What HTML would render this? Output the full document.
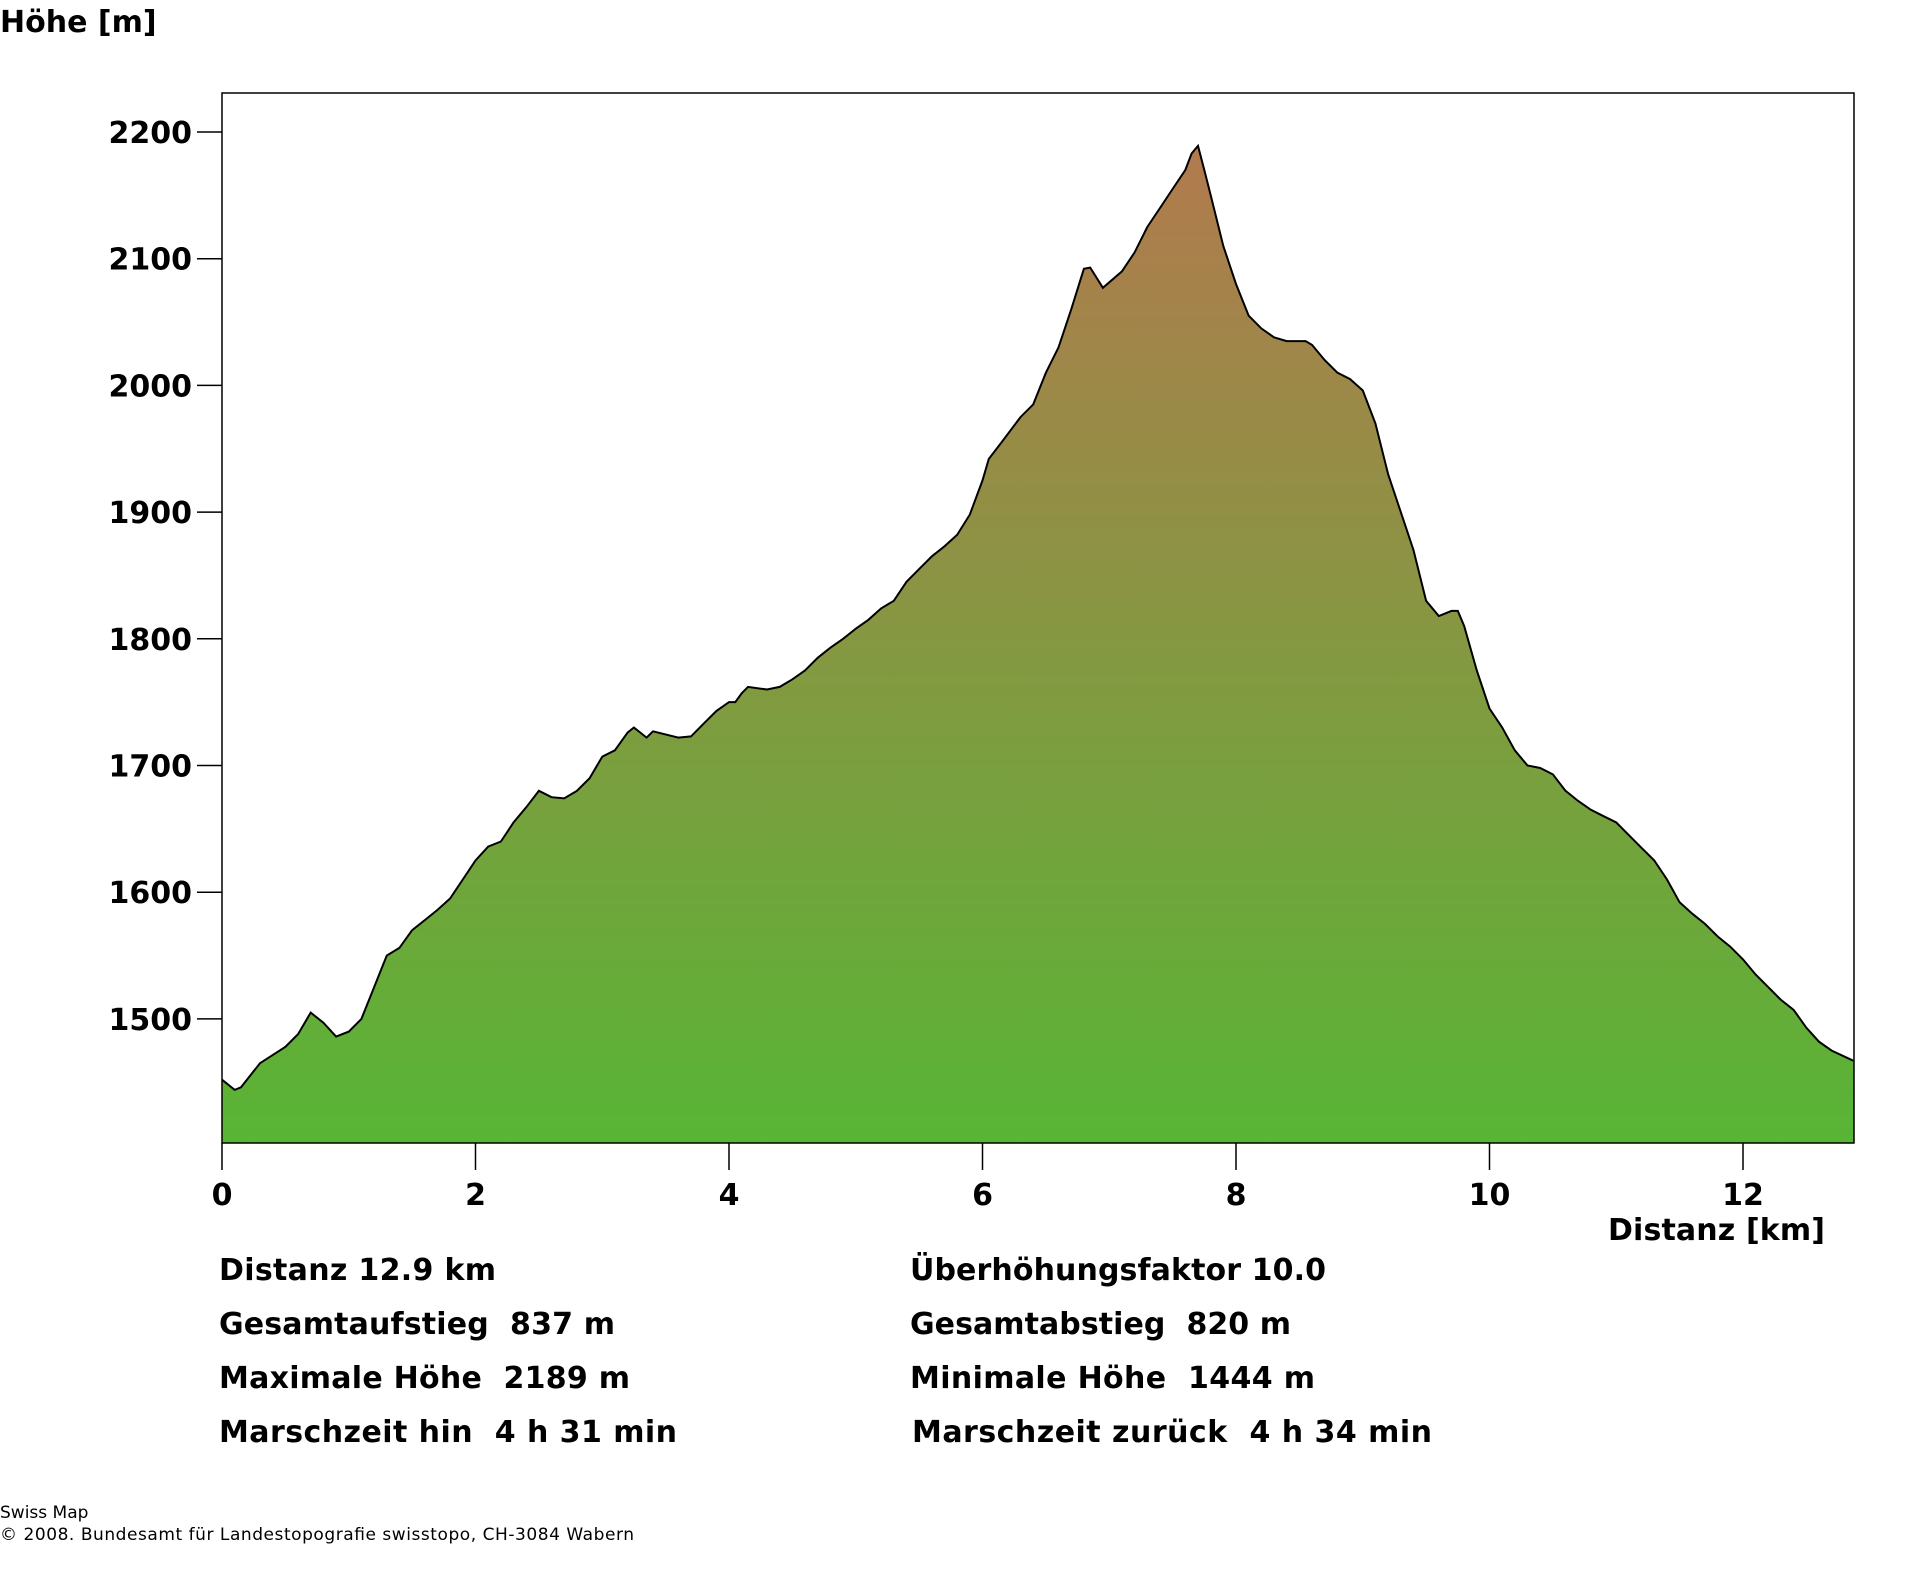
<!DOCTYPE html>
<html><head><meta charset="utf-8"><style>
html,body{margin:0;padding:0;background:#fff;}
svg{display:block;}
text{font-family:"DejaVu Sans","Liberation Sans",sans-serif;fill:#000;}
.b{font-weight:bold;font-size:30px;}
</style></head><body>
<svg id="s" width="1920" height="1572" viewBox="0 0 1920 1572" xmlns="http://www.w3.org/2000/svg">
<defs>
<linearGradient id="g" gradientUnits="userSpaceOnUse" x1="0" y1="146" x2="0" y2="1143">
<stop offset="0" stop-color="#b27a4e"/>
<stop offset="1" stop-color="#58b535"/>
</linearGradient>
</defs>
<path id="area" fill="url(#g)" stroke="none"/>
<path id="line" fill="none" stroke="#000" stroke-width="2"/>
<rect x="222" y="93" width="1632" height="1050" fill="none" stroke="#000" stroke-width="1.5"/>
<g id="ticks" stroke="#000" stroke-width="1.5"></g>
<g id="labels" class="b"></g>
<text class="b" x="0" y="32">Höhe [m]</text>
<text class="b" x="1608" y="1240" textLength="217">Distanz [km]</text>
<text class="b" x="219" y="1280" textLength="277">Distanz 12.9 km</text>
<text class="b" x="219" y="1334" textLength="396" xml:space="preserve">Gesamtaufstieg  837 m</text>
<text class="b" x="219" y="1388" textLength="411" xml:space="preserve">Maximale Höhe  2189 m</text>
<text class="b" x="219" y="1442" textLength="458" xml:space="preserve">Marschzeit hin  4 h 31 min</text>
<text class="b" x="910" y="1280" textLength="416">Überhöhungsfaktor 10.0</text>
<text class="b" x="910" y="1334" textLength="381" xml:space="preserve">Gesamtabstieg  820 m</text>
<text class="b" x="910" y="1388" textLength="405" xml:space="preserve">Minimale Höhe  1444 m</text>
<text class="b" x="912" y="1442" textLength="520" xml:space="preserve">Marschzeit zurück  4 h 34 min</text>
<text x="0" y="1518" font-size="17">Swiss Map</text>
<text x="0" y="1540" font-size="17" textLength="634">© 2008. Bundesamt für Landestopografie swisstopo, CH-3084 Wabern</text>
</svg>
<script>
var d=[[0,1452],[0.1,1444],[0.15,1446],[0.3,1465],[0.5,1478],[0.6,1488],[0.7,1505],[0.8,1497],[0.9,1486],[1.0,1490],[1.1,1500],[1.2,1525],[1.3,1550],[1.4,1556],[1.5,1570],[1.6,1578],[1.7,1586],[1.8,1595],[1.9,1610],[2.0,1625],[2.1,1636],[2.2,1640],[2.3,1655],[2.4,1667],[2.5,1680],[2.6,1675],[2.7,1674],[2.8,1680],[2.9,1690],[3.0,1707],[3.1,1712],[3.2,1726],[3.25,1730],[3.35,1722],[3.4,1727],[3.6,1722],[3.7,1723],[3.8,1733],[3.9,1743],[4.0,1750],[4.05,1750],[4.1,1757],[4.15,1762],[4.3,1760],[4.4,1762],[4.5,1768],[4.6,1775],[4.7,1785],[4.8,1793],[4.9,1800],[5.0,1808],[5.1,1815],[5.2,1824],[5.3,1830],[5.4,1845],[5.5,1855],[5.6,1865],[5.7,1873],[5.8,1882],[5.9,1898],[6.0,1925],[6.05,1942],[6.15,1955],[6.3,1975],[6.4,1985],[6.5,2010],[6.6,2030],[6.7,2060],[6.8,2092],[6.85,2093],[6.95,2077],[7.1,2090],[7.2,2105],[7.3,2125],[7.4,2140],[7.5,2155],[7.6,2170],[7.65,2183],[7.7,2189],[7.75,2170],[7.8,2150],[7.9,2110],[8.0,2080],[8.1,2055],[8.2,2045],[8.3,2038],[8.4,2035],[8.55,2035],[8.6,2032],[8.7,2020],[8.8,2010],[8.9,2005],[9.0,1996],[9.1,1970],[9.2,1930],[9.3,1900],[9.4,1870],[9.5,1830],[9.6,1818],[9.7,1822],[9.75,1822],[9.8,1810],[9.9,1775],[10.0,1745],[10.1,1730],[10.2,1712],[10.3,1700],[10.4,1698],[10.5,1693],[10.6,1680],[10.7,1672],[10.8,1665],[10.9,1660],[11.0,1655],[11.1,1645],[11.2,1635],[11.3,1625],[11.4,1610],[11.5,1592],[11.6,1583],[11.7,1575],[11.8,1565],[11.9,1557],[12.0,1547],[12.1,1535],[12.2,1525],[12.3,1515],[12.4,1507],[12.5,1493],[12.6,1482],[12.7,1475],[12.87,1467]];
function X(k){return 222+k*126.75;}
function Y(h){return 132+(2200-h)*1.267;}
var p="";
d.forEach(function(a,i){p+=(i?"L":"M")+X(a[0]).toFixed(1)+","+Y(a[1]).toFixed(1);});
document.getElementById("line").setAttribute("d",p);
document.getElementById("area").setAttribute("d",p+"L1854,"+Y(d[d.length-1][1]).toFixed(1)+"L1854,1143L222,1143Z");
var ns="http://www.w3.org/2000/svg",t=document.getElementById("ticks"),l=document.getElementById("labels");
function ln(x1,y1,x2,y2){var e=document.createElementNS(ns,"line");e.setAttribute("x1",x1);e.setAttribute("y1",y1);e.setAttribute("x2",x2);e.setAttribute("y2",y2);t.appendChild(e);}
function tx(x,y,s,a){var e=document.createElementNS(ns,"text");e.setAttribute("x",x);e.setAttribute("y",y);e.setAttribute("text-anchor",a);e.textContent=s;l.appendChild(e);}
for(var h=1500;h<=2200;h+=100){var y=Y(h);ln(197,y,222,y);tx(192,y+11,String(h),"end");}
for(var k=0;k<=12;k+=2){var x=X(k);ln(x,1143,x,1170);tx(x,1205,String(k),"middle");}
</script>
</body></html>
